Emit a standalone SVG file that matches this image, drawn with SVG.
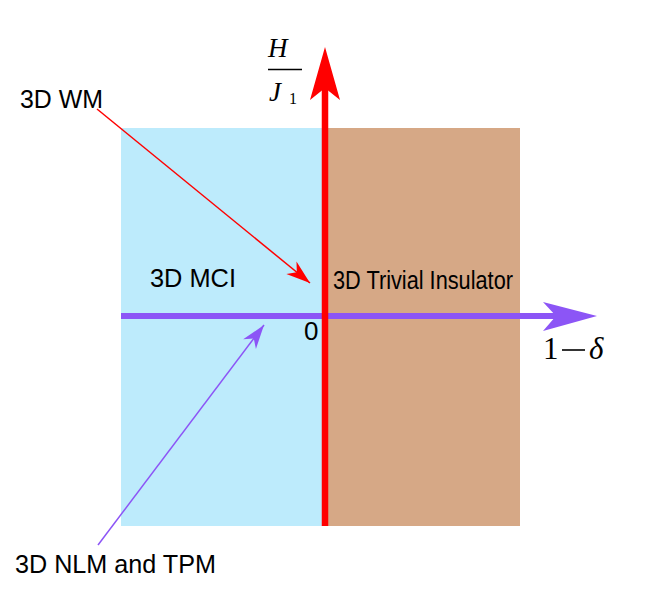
<svg xmlns="http://www.w3.org/2000/svg" width="664" height="593" viewBox="0 0 664 593">
<style>
.lbl{font-family:"Liberation Sans",Arial,sans-serif;font-size:25px;fill:#000}
.math{font-family:"Liberation Serif","Times New Roman",serif;fill:#000}
</style>
<defs>
<marker id="mRed" markerUnits="userSpaceOnUse" markerWidth="30" markerHeight="20" viewBox="-26 -10 28 20" refX="0" refY="0" orient="auto">
<path d="M0,0 L-24,-8 L-17,0 L-24,8 Z" fill="#ff0000"/>
</marker>
<marker id="mPur" markerUnits="userSpaceOnUse" markerWidth="30" markerHeight="20" viewBox="-26 -10 28 20" refX="0" refY="0" orient="auto">
<path d="M0,0 L-24,-8 L-17,0 L-24,8 Z" fill="#8c55f6"/>
</marker>
</defs>
<rect width="664" height="593" fill="#fff"/>
<g id="region-mci"><rect x="121" y="128" width="204" height="398" fill="#bdebfc"/></g>
<g id="region-trivial"><rect x="325" y="128" width="195" height="398" fill="#d6a886"/></g>
<g id="connectors">
<g id="axis-x">
<line x1="121" y1="316" x2="558" y2="316" stroke="#8c55f6" stroke-width="6"/>
<path d="M597,316 L543,302 L556,316 L543,331 Z" fill="#8c55f6"/>
</g>
<g id="axis-y">
<line x1="325" y1="526" x2="325" y2="86" stroke="#ff0000" stroke-width="6.5"/>
<path d="M325,47 L310,100 L325,88 L340,100 Z" fill="#ff0000"/>
</g>
<line x1="97" y1="109" x2="310" y2="283" stroke="#ff0000" stroke-width="1.5" marker-end="url(#mRed)"/>
<line x1="98" y1="545" x2="264" y2="325" stroke="#8c55f6" stroke-width="1.5" marker-end="url(#mPur)"/>
</g>
<g id="label-wm"><text class="lbl" x="20" y="108" textLength="83" lengthAdjust="spacingAndGlyphs">3D WM</text></g>
<g id="label-mci"><text class="lbl" x="150" y="287" textLength="86" lengthAdjust="spacingAndGlyphs">3D MCI</text></g>
<g id="label-trivial"><text class="lbl" x="333" y="289" textLength="180" lengthAdjust="spacingAndGlyphs">3D Trivial Insulator</text></g>
<g id="label-nlm"><text class="lbl" x="15" y="573" textLength="201" lengthAdjust="spacingAndGlyphs">3D NLM and TPM</text></g>
<g id="label-origin"><text class="lbl" x="304" y="340" style="font-size:26px">0</text></g>
<g id="label-yaxis">
<text class="math" x="268" y="57" style="font-size:27px;font-style:italic">H</text>
<line x1="268" y1="69.5" x2="302" y2="69.5" stroke="#000" stroke-width="1.4"/>
<text class="math" x="269" y="101" style="font-size:27px;font-style:italic">J</text>
<text class="math" x="289" y="104" style="font-size:16px">1</text>
</g>
<g id="label-xaxis">
<text class="math" x="543" y="359" style="font-size:31px">1</text>
<line x1="562" y1="350" x2="585" y2="350" stroke="#000" stroke-width="1.6"/>
<text class="math" x="589" y="359" style="font-size:31px;font-style:italic">δ</text>
</g>
</svg>
